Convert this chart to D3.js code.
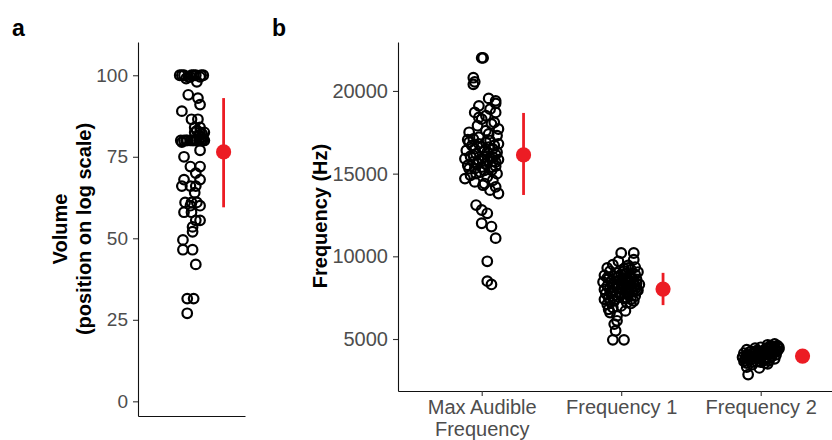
<!DOCTYPE html>
<html>
<head>
<meta charset="utf-8">
<script src="https://cdn.jsdelivr.net/npm/d3@7"></script>
<style>
  body { margin: 0; background: #fff; }
  svg { font-family: "Liberation Sans", Arial, sans-serif; }
</style>
</head>
<body>
<div id="chart"></div>
<script>
// ---- data ----
// panel a: volume (position on log scale), jitter in category units
const volumeValues = [100, 100, 99.5, 100, 100, 99.5, 100, 99, 100, 100, 100, 99.5,
  98, 94, 93, 91, 89, 86.5, 86.5,
  84, 84, 82.5, 82.5, 82.5, 80, 80, 80, 80, 80, 80, 80, 80, 80, 81,
  80, 80, 80, 80, 80.5, 81.5, 82, 83, 79.5,
  77, 75, 72, 72, 70, 68, 68,
  66, 66, 66, 64, 61, 61, 61, 60, 60, 58, 58, 55.5, 55.5, 53.5, 52, 49.5, 46.5, 46.5, 42, 31.5, 31.5, 27];
const volumeJitter = [-0.11, -0.07, -0.03, 0.0, 0.04, 0.08, 0.11, -0.05, -0.09, 0.09, 0.02, -0.01,
  0.05, -0.03, 0.06, 0.08, -0.09, 0.0, 0.06,
  0.03, 0.08, 0.03, 0.08, 0.12, -0.1, -0.07, -0.04, -0.01, 0.01, 0.04, 0.07, 0.1, 0.12, 0.09,
  -0.05, 0.02, 0.05, 0.09, 0.11, 0.07, 0.1, 0.05, -0.09,
  0.08, -0.07, -0.01, 0.08, 0.04, -0.07, 0.08,
  -0.09, -0.01, 0.04, 0.03, -0.06, 0.0, 0.05, -0.01, 0.08, -0.07, 0.0, 0.04, 0.08, 0.01, 0.01, -0.08, -0.08, 0.01, 0.04, -0.04, 0.02, -0.04];
const volumeSummary = { mean: 76.5, lo: 59.5, hi: 93 };

// panel b: frequencies (Hz)
const categories = ["Max Audible Frequency", "Frequency 1", "Frequency 2"];

const maxAudibleValues = [22000, 22000, 20800, 20550, 20400,
  19550, 19400, 19250, 19100, 18900, 18700, 18700, 18500, 18300, 18100, 17900, 17700, 17500, 17400,
  17300, 17200, 17050, 16900, 16800, 16700, 16600, 16500, 16400, 16300, 16200, 16150, 16050, 16000,
  15950, 15900, 15850, 15800, 15750, 15700, 15600, 15500, 15450, 15400, 15300, 15200, 15100, 15000,
  14900, 14800, 14700, 14600, 14400, 14200, 14000, 13800,
  17000, 16800, 16700, 16500, 16400, 16300, 16100, 15900, 15800, 15700, 15600, 15400, 15300, 15200,
  15000, 16600, 17100, 17600, 18000, 18400, 14500, 14300, 16000, 16900,
  13100, 12800, 12600, 12000, 11800, 11100, 9700, 8500, 8300];
const maxAudibleJitter = [0.0, 0.01, -0.06, -0.05, -0.06,
  0.05, 0.1, 0.1, -0.02, 0.06, -0.05, 0.1, 0.03, 0.0, 0.09, -0.03, 0.12, -0.09, 0.05,
  0.11, -0.02, -0.1, 0.03, 0.12, -0.07, 0.0, 0.08, -0.11, 0.04, -0.04, 0.1, -0.08, 0.02,
  0.06, -0.12, 0.12, -0.02, 0.08, -0.06, 0.03, -0.1, 0.1, 0.0, -0.05, 0.07, -0.01, 0.11,
  -0.08, 0.04, -0.12, 0.08, 0.02, 0.1, 0.06, 0.12,
  0.06, -0.02, 0.09, -0.05, 0.02, 0.11, -0.06, 0.0, 0.04, 0.1, -0.03, 0.07, -0.09, 0.02,
  -0.04, 0.05, -0.06, 0.03, 0.07, -0.02, -0.05, 0.01, 0.08, -0.09,
  -0.04, 0.0, 0.04, 0.0, 0.07, 0.1, 0.04, 0.04, 0.07];

const freq1Values = [10200, 10200, 9800, 9700,
  9500, 9450, 9350, 9300, 9250, 9200, 9100, 9050, 9000, 8950, 8900, 8850,
  8800, 8750, 8700, 8650, 8600, 8550, 8500, 8450, 8400, 8350, 8300, 8250,
  8200, 8150, 8100, 8050, 8000, 7950, 7900, 7850, 7800, 7750, 7700, 7650,
  7600, 7500, 7450, 7400, 7300, 7200, 7100, 7000,
  8900, 8800, 8700, 8600, 8500, 8400, 8300, 8200, 8100, 8000, 7900, 7800, 7700, 7600,
  7500, 7400, 7300, 8750, 8450, 8150, 7850, 7550, 8650, 8050, 7950, 8350, 9100, 9300,
  7250, 7150, 6800, 6700,
  6900, 6600, 6400, 6100, 5900, 5500, 4950, 4950];
const freq1Jitter = [0.0, 0.09, 0.09, -0.02,
  -0.06, 0.05, 0.1, -0.1, 0.02, 0.07, -0.08, 0.12, -0.03, 0.04, 0.1, -0.12,
  -0.05, 0.07, 0.01, -0.09, 0.11, -0.02, 0.05, -0.13, 0.09, -0.06, 0.13, 0.02,
  -0.1, 0.06, -0.03, 0.1, -0.12, 0.03, -0.07, 0.08, 0.0, -0.11, 0.05, -0.04,
  0.1, -0.09, 0.02, 0.07, -0.05, 0.04, -0.1, 0.0,
  0.0, 0.06, -0.1, 0.03, -0.07, 0.0, -0.03, 0.1, 0.07, 0.0, 0.11, -0.08, -0.01, -0.06,
  0.04, -0.12, 0.09, -0.02, 0.06, -0.06, 0.04, -0.02, 0.08, -0.08, 0.12, 0.11, 0.02, 0.05,
  -0.08, 0.07, -0.09, 0.03,
  -0.06, -0.08, -0.03, -0.03, -0.05, -0.04, -0.06, 0.02];

const freq2Values = [4700, 4650, 4600, 4550, 4500, 4500, 4450, 4400, 4400, 4350, 4300, 4300,
  4250, 4200, 4200, 4150, 4100, 4100, 4050, 4000, 4000, 3950, 3950, 3900, 3900, 3850,
  3800, 3800, 3750, 3700, 3700, 3650, 3600, 3550, 3500, 3450,
  4600, 4500, 4450, 4350, 4300, 4250, 4200, 4150, 4100, 4050, 4000, 3950, 3900, 3850,
  3800, 3750, 3700, 3650, 3600, 3550, 4250, 4400, 3850, 4050,
  3300, 3250, 2850];
const freq2Jitter = [0.1, 0.05, 0.12, 0.08, 0.0, 0.13, -0.04, 0.06, 0.1, -0.1, 0.02, 0.12,
  -0.07, 0.04, 0.09, -0.12, -0.02, 0.06, 0.11, -0.09, 0.01, -0.05, 0.08, -0.13, 0.04, -0.01,
  0.1, -0.08, 0.03, -0.11, 0.06, -0.03, 0.0, -0.1, 0.05, -0.06,
  0.07, 0.1, 0.04, 0.08, -0.03, 0.0, -0.08, 0.06, -0.06, 0.02, 0.08, -0.1, -0.03, 0.06,
  0.0, -0.07, 0.02, -0.12, -0.06, 0.03, 0.11, 0.13, -0.11, -0.1,
  -0.1, -0.01, -0.09];

const freqSummary = [
  { mean: 16130, lo: 13710, hi: 18670 },
  { mean: 8020, lo: 7050, hi: 9000 },
  { mean: 3970, lo: 3800, hi: 4150 },
];

const volumeTicks = [0, 25, 50, 75, 100];
const freqTicks = [5000, 10000, 15000, 20000];

// ---- layout ----
const W = 832, H = 440;
const red = "#ec1c24";
const tickGrey = "#4d4d4d";

const svg = d3.select("#chart").append("svg")
  .attr("width", W).attr("height", H)
  .style("background", "#fff");

function styleAxis(g, fontSize) {
  g.select(".domain").attr("stroke", "#111").attr("stroke-width", 1.1);
  g.selectAll(".tick line").attr("stroke", "#333").attr("stroke-width", 1.1);
  g.selectAll(".tick text").attr("fill", tickGrey).attr("font-size", fontSize)
    .attr("font-family", "'Liberation Sans', Arial, sans-serif");
}

function drawPoints(g, x, y, xCat, values, jitter) {
  g.append("g").selectAll("circle")
    .data(values)
    .join("circle")
    .attr("cx", (d, i) => x(xCat + jitter[i]))
    .attr("cy", (d) => y(d))
    .attr("r", 4.8)
    .attr("fill", "none")
    .attr("stroke", "#000")
    .attr("stroke-width", 2.2);
}

function drawSummary(g, x, y, xCat, s) {
  g.append("line")
    .attr("x1", x(xCat + 0.3)).attr("x2", x(xCat + 0.3))
    .attr("y1", y(s.lo)).attr("y2", y(s.hi))
    .attr("stroke", red).attr("stroke-width", 2.8);
  g.append("circle")
    .attr("cx", x(xCat + 0.3)).attr("cy", y(s.mean))
    .attr("r", 7.6).attr("fill", red);
}

// ---- panel a ----
const xA = d3.scaleLinear().domain([0.5, 1.5]).range([138, 245]);
const yA = d3.scaleLinear().domain([-4.5, 110.2]).range([416, 42]);

svg.append("text").attr("x", 12).attr("y", 36)
  .attr("font-size", 23).attr("font-weight", "bold").text("a");

svg.append("g").attr("transform", "translate(138,0)")
  .call(d3.axisLeft(yA).tickValues(volumeTicks).tickSize(5).tickSizeOuter(0).tickPadding(5))
  .call((g) => styleAxis(g, 19));
svg.append("g").attr("transform", "translate(0,416)")
  .call(d3.axisBottom(xA).tickValues([]).tickSizeOuter(0))
  .call((g) => styleAxis(g, 19));

const ylabA = svg.append("text")
  .attr("transform", "translate(0,229) rotate(-90)")
  .attr("text-anchor", "middle")
  .attr("font-size", 20).attr("font-weight", "bold").attr("fill", "#000");
ylabA.append("tspan").attr("x", 0).attr("y", 67).text("Volume");
ylabA.append("tspan").attr("x", 0).attr("y", 91).text("(position on log scale)");

const pa = svg.append("g");
drawPoints(pa, xA, yA, 1, volumeValues, volumeJitter);
drawSummary(pa, xA, yA, 1, volumeSummary);

// ---- panel b ----
const xB = d3.scaleLinear().domain([0.4, 3.6]).range([398, 844.4]);
const yB = d3.scaleLinear().domain([1856, 22960]).range([391, 42]);

svg.append("text").attr("x", 272).attr("y", 36)
  .attr("font-size", 23).attr("font-weight", "bold").text("b");

svg.append("g").attr("transform", "translate(398,0)")
  .call(d3.axisLeft(yB).tickValues(freqTicks).tickFormat(d3.format("d"))
    .tickSize(5).tickSizeOuter(0).tickPadding(5))
  .call((g) => styleAxis(g, 20));

const xAxisB = svg.append("g").attr("transform", "translate(0,391)")
  .call(d3.axisBottom(xB).tickValues([1, 2, 3]).tickSize(5).tickSizeOuter(0).tickPadding(4)
    .tickFormat((d) => categories[d - 1]))
  .call((g) => styleAxis(g, 20));

// wrap the first category onto two lines
xAxisB.selectAll(".tick text").each(function (d) {
  const t = d3.select(this);
  if (d === 1) {
    t.text(null);
    t.append("tspan").attr("x", 0).attr("dy", "0.71em").text("Max Audible");
    t.append("tspan").attr("x", 0).attr("dy", "1.08em").text("Frequency");
    t.attr("dy", null);
  }
});

svg.append("text")
  .attr("transform", "translate(327,216) rotate(-90)")
  .attr("text-anchor", "middle")
  .attr("font-size", 20).attr("font-weight", "bold").attr("fill", "#000")
  .text("Frequency (Hz)");

const pb = svg.append("g");
drawPoints(pb, xB, yB, 1, maxAudibleValues, maxAudibleJitter);
drawPoints(pb, xB, yB, 2, freq1Values, freq1Jitter);
drawPoints(pb, xB, yB, 3, freq2Values, freq2Jitter);
freqSummary.forEach((s, i) => drawSummary(pb, xB, yB, i + 1, s));
</script>
</body>
</html>
